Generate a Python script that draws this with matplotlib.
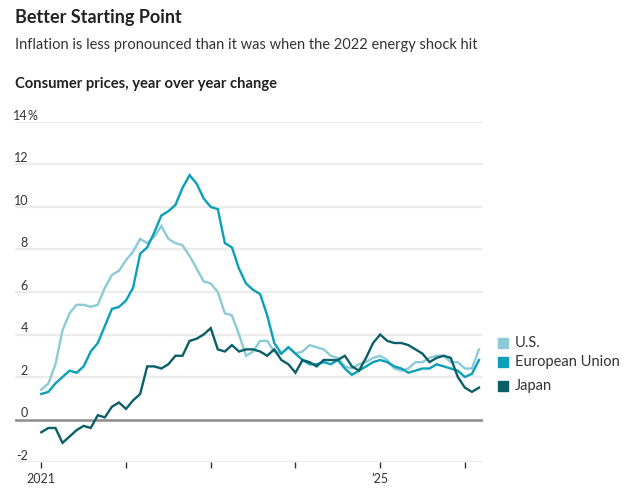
import matplotlib
matplotlib.use("Agg")
import matplotlib.pyplot as plt
import matplotlib.transforms as mtransforms
import numpy as np

plt.rcParams['font.family'] = ['Lato', 'DejaVu Sans']

# monthly CPI y/y change, Jan 2021 - Mar 2026
us = [1.4, 1.7, 2.6, 4.2, 5.0, 5.4, 5.4, 5.3, 5.4, 6.2, 6.8, 7.0,
      7.5, 7.9, 8.5, 8.3, 8.6, 9.1, 8.5, 8.3, 8.2, 7.7, 7.1, 6.5,
      6.4, 6.0, 5.0, 4.9, 4.0, 3.0, 3.2, 3.7, 3.7, 3.2, 3.1, 3.4,
      3.1, 3.2, 3.5, 3.4, 3.3, 3.0, 2.9, 2.5, 2.4, 2.6, 2.7, 2.9,
      3.0, 2.8, 2.4, 2.3, 2.4, 2.7, 2.7, 2.9, 3.0, 3.0, 2.7, 2.7,
      2.4, 2.4, 3.3]
eu = [1.2, 1.3, 1.7, 2.0, 2.3, 2.2, 2.5, 3.2, 3.6, 4.4, 5.2, 5.3,
      5.6, 6.2, 7.8, 8.1, 8.8, 9.6, 9.8, 10.1, 10.9, 11.5, 11.1, 10.4,
      10.0, 9.9, 8.3, 8.1, 7.1, 6.4, 6.1, 5.9, 4.9, 3.6, 3.1, 3.4,
      3.1, 2.8, 2.6, 2.6, 2.7, 2.6, 2.8, 2.4, 2.1, 2.3, 2.5, 2.7,
      2.8, 2.7, 2.5, 2.4, 2.2, 2.3, 2.4, 2.4, 2.6, 2.5, 2.4, 2.3,
      2.0, 2.15, 2.8]
japan = [-0.6, -0.4, -0.4, -1.1, -0.8, -0.5, -0.3, -0.4, 0.2, 0.1, 0.6, 0.8,
         0.5, 0.9, 1.2, 2.5, 2.5, 2.4, 2.6, 3.0, 3.0, 3.7, 3.8, 4.0,
         4.3, 3.3, 3.2, 3.5, 3.2, 3.3, 3.3, 3.2, 3.0, 3.3, 2.8, 2.6,
         2.2, 2.8, 2.7, 2.5, 2.8, 2.8, 2.8, 3.0, 2.5, 2.3, 2.9, 3.6,
         4.0, 3.7, 3.6, 3.6, 3.5, 3.3, 3.1, 2.7, 2.9, 3.0, 2.9, 2.0,
         1.5, 1.3, 1.5]

series = ['U.S.', 'European Union', 'Japan']
colors = ['#8bcad7', '#0aa1b8', '#0a5f68']
y_ticks = [-2, 0, 2, 4, 6, 8, 10, 12, 14]
x_ticks = [0, 12, 24, 36, 48, 60]
x_labels = ['2021', '', '', '', '\u201925', '']

W, H = 637, 490
fig = plt.figure(figsize=(W / 100, H / 100), dpi=100)

def fx(px):
    return px / W

def fy(py):
    return 1 - py / H

ax = fig.add_axes([fx(15), fy(462), fx(468), (462 - 122) / H])
ax.set_xlim(-3.73, 62.57)
ax.set_ylim(-2, 14)

# gridlines
for v in y_ticks:
    if v == 0:
        continue
    ax.axhline(v, color='#ececec', lw=1.6, zorder=0)
ax.axhline(0, color='#8c8c8c', lw=1.8, zorder=1)

months = np.arange(len(us))
for vals, c in zip([us, eu, japan], colors):
    ax.plot(months, vals, color=c, lw=1.7, solid_joinstyle='miter', zorder=3)

for s in ax.spines.values():
    s.set_visible(False)
ax.set_yticks([])
ax.set_xticks(x_ticks)
ax.set_xticklabels(x_labels)
ax.tick_params(axis='x', length=4, width=1, color='#333333', pad=4,
               labelsize=9, labelcolor='#333333')

# y tick labels sit just above their gridlines
ylab_tr = mtransforms.blended_transform_factory(fig.transFigure, ax.transData)
for v in y_ticks:
    fig.text(fx(28), v + 0.1, str(v), transform=ylab_tr,
             ha='right', va='baseline', fontsize=9, color='#333333')
fig.text(fx(27.5), 14.1, '%', transform=ylab_tr,
         ha='left', va='baseline', fontsize=9, color='#333333')

# titles
fig.text(fx(15), fy(23), 'Better Starting Point', fontsize=13, fontweight='bold',
         color='#222222', va='baseline')
fig.text(fx(15), fy(49), 'Inflation is less pronounced than it was when the 2022 energy shock hit',
         fontsize=10.5, color='#333333', va='baseline')
fig.text(fx(15), fy(88), 'Consumer prices, year over year change', fontsize=10.6,
         fontweight='bold', color='#222222', va='baseline')

# legend
leg_y = [343, 362, 386]
for name, c, yy in zip(series, colors, leg_y):
    fig.patches.append(plt.Rectangle((fx(498), fy(yy + 5)), fx(10), 10 / H,
                                     transform=fig.transFigure, color=c, figure=fig))
    fig.text(fx(515), fy(yy), name, fontsize=10.5, color='#333333', va='center')

fig.savefig('out.png', dpi=100)
